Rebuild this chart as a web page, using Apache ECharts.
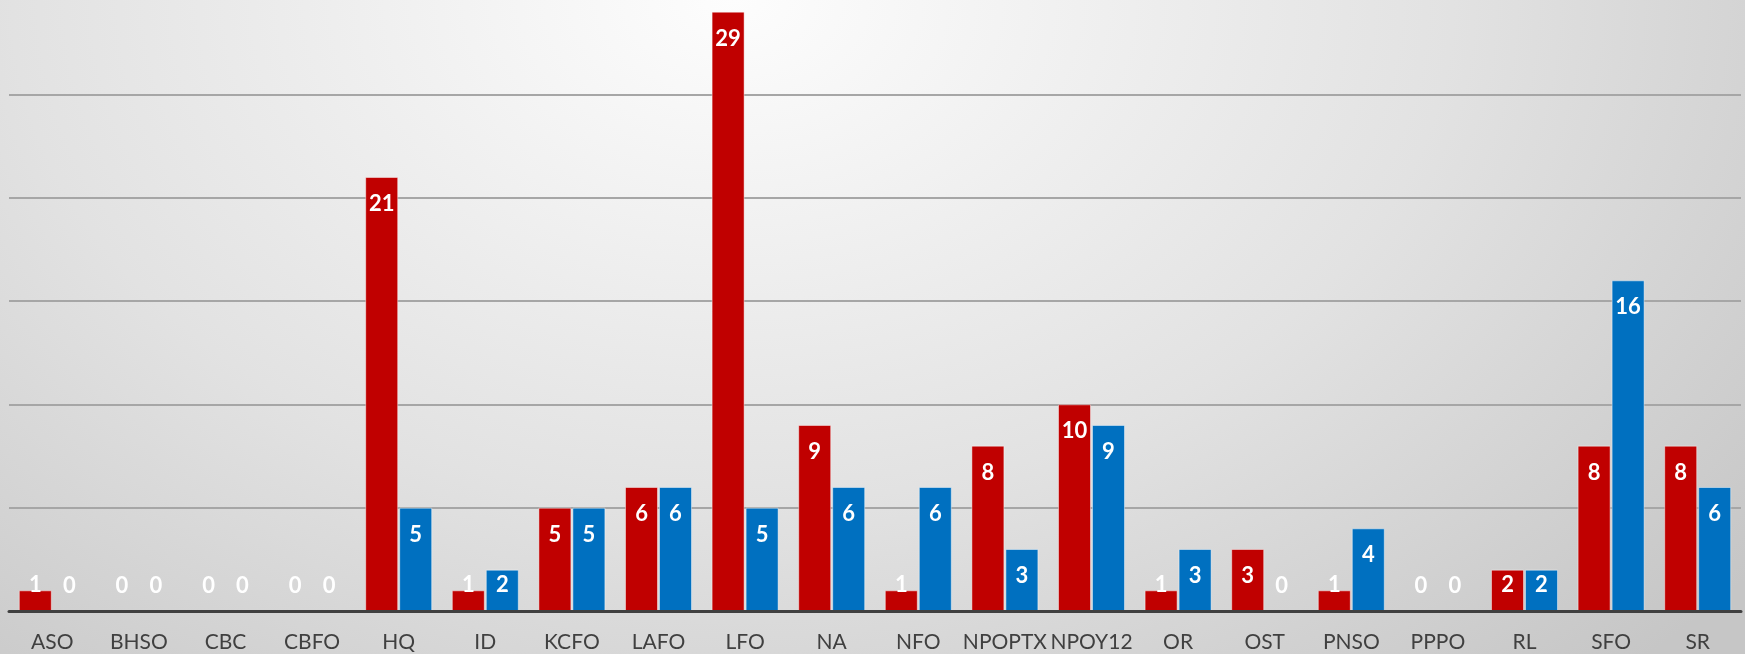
<!DOCTYPE html>
<html>
<head>
<meta charset="utf-8">
<script src="https://cdn.jsdelivr.net/npm/echarts@6/dist/echarts.min.js"></script>
<style>
html,body{margin:0;padding:0;}
#wrap{position:relative;width:1745px;height:654px;overflow:hidden;background:radial-gradient(ellipse 75% 140% at 42% 0%, #fdfdfd 0%, #e2e2e2 55%, #c6c6c6 100%);}
#c{position:absolute;left:0;top:-9px;width:1745px;height:663px;}
</style>
</head>
<body>
<div id="wrap"><div id="c"></div></div>
<script>
const categories = ['ASO','BHSO','CBC','CBFO','HQ','ID','KCFO','LAFO','LFO','NA','NFO','NPOPTX','NPOY12','OR','OST','PNSO','PPPO','RL','SFO','SR'];
const redValues  = [1,0,0,0,21,1,5,6,29,9,1,8,10,1,3,1,0,2,8,8];
const blueValues = [0,0,0,0,5,2,5,6,5,6,6,3,9,3,0,4,0,2,16,6];

function withLabels(vals){
  return vals.map(v => {
    if (v <= 2) {
      return {value: v, label: {position: 'insideBottom', distance: 15}};
    }
    return {value: v};
  });
}

const chart = echarts.init(document.getElementById('c'), null, {renderer: 'canvas'});
const labelStyle = {
  show: true,
  position: 'insideTop',
  distance: 16,
  color: '#ffffff',
  fontFamily: 'Lato',
  fontWeight: 'bold',
  fontSize: 22
};
chart.setOption({
  backgroundColor: 'transparent',
  animation: false,
  grid: {left: 9, right: 4, top: 0, bottom: 43, containLabel: false},
  xAxis: {
    type: 'category',
    data: categories,
    z: 5,
    axisLine: {show: true, lineStyle: {color: '#404040', width: 3}},
    axisTick: {show: false},
    axisLabel: {color: '#404040', fontFamily: 'Lato', fontSize: 21, margin: 21, interval: 0}
  },
  yAxis: {
    type: 'value',
    min: 0, max: 30, interval: 5,
    axisLine: {show: false},
    axisTick: {show: false},
    axisLabel: {show: false},
    splitLine: {lineStyle: {color: '#a6a6a6', width: 2}}
  },
  series: [
    {
      type: 'bar',
      data: withLabels(redValues),
      barWidth: 33,
      barGap: '3%',
      itemStyle: {color: '#C00000', borderColor: 'rgba(255,255,255,0.45)', borderWidth: 1},
      label: labelStyle
    },
    {
      type: 'bar',
      data: withLabels(blueValues),
      barWidth: 33,
      barGap: '3%',
      itemStyle: {color: '#0070C0', borderColor: 'rgba(255,255,255,0.45)', borderWidth: 1},
      label: labelStyle
    }
  ]
});
</script>
</body>
</html>
